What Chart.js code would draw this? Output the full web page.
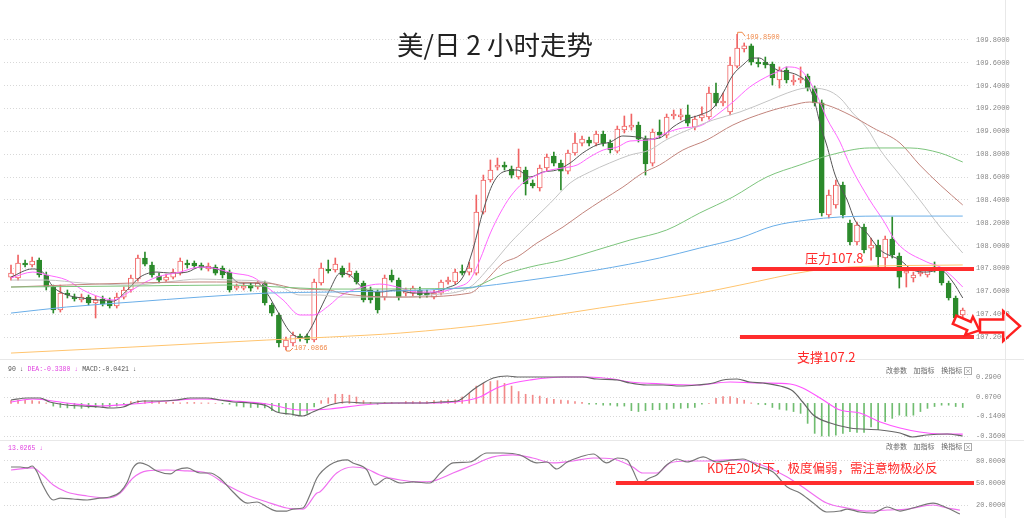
<!DOCTYPE html>
<html>
<head>
<meta charset="utf-8">
<script src="https://cdn.jsdelivr.net/npm/chart.js@4.4.1/dist/chart.umd.min.js"></script>
<style>
  body { margin: 0; background: #fff; }
  #wrap { position: relative; width: 1024px; height: 518px; overflow: hidden; font-family: "Noto Sans CJK SC", sans-serif; }
  canvas { position: absolute; left: 0; }
  .t { position: absolute; white-space: nowrap; }
  .hl { position: absolute; left: 0; width: 1024px; height: 1px; background: #e8e8e8; }
  .vl { position: absolute; top: 0; width: 1px; height: 518px; background: #e8e8e8; }
  .small { font-family: "Liberation Mono", monospace; font-size: 6.5px; line-height: 8px; }
  .tools { font-size: 7px; line-height: 9px; color: #666; word-spacing: 5px; }
  .box { position: absolute; width: 6px; height: 6px; border: 1px solid #aaa; font-size: 6px; line-height: 6px; text-align: center; color: #777; }
</style>
</head>
<body>
<div id="wrap">
  <canvas id="main" width="1024" height="360" style="top:0"></canvas>
  <canvas id="macd" width="1024" height="80" style="top:360px"></canvas>
  <canvas id="kd" width="1024" height="78" style="top:440px"></canvas>
  <div class="hl" style="top:359px"></div>
  <div class="hl" style="top:440px"></div>
  <div class="vl" style="left:1005px"></div>

  <div class="t" style="left:397px;top:27px;font-size:26.5px;line-height:34px;color:#222">美/日 2 小时走势</div>
  <div class="t" style="left:805px;top:249px;font-size:13px;line-height:17px;color:#ff2a2a">压力107.8</div>
  <div class="t" style="left:797px;top:348px;font-size:13px;line-height:17px;color:#ff2a2a">支撑107.2</div>
  <div class="t" style="left:707px;top:459px;font-size:12.5px;line-height:17px;color:#ff2a2a">KD在20以下，极度偏弱，需注意物极必反</div>

  <div class="t small" style="left:8px;top:366px"><span style="color:#555">90 ↓</span> <span style="color:#e040e0">DEA:-0.3380 ↓</span> <span style="color:#555">MACD:-0.0421 ↓</span></div>
  <div class="t small" style="left:8px;top:445px;color:#e040e0">13.0265 ↓</div>
  <div class="t tools" style="left:886px;top:366px">改参数 加指标 换指标</div>
  <div class="box" style="left:964px;top:367px">×</div>
  <div class="t tools" style="left:886px;top:442px">改参数 加指标 换指标</div>
  <div class="box" style="left:964px;top:443px">×</div>
</div>
<script>
// price axis / indicator ticks
const priceTicks = [107.2, 107.4, 107.6, 107.8, 108.0, 108.2, 108.4, 108.6, 108.8, 109.0, 109.2, 109.4, 109.6, 109.8];
const macdTicks = [0.29, 0.07, -0.14, -0.36];
const kdTicks = [80, 50, 20];

// 2h candles
const opens = [107.725,107.717,107.848,107.831,107.874,107.743,107.638,107.437,107.585,107.550,
  107.524,107.550,107.498,107.533,107.515,107.472,107.550,107.612,107.708,107.892,
  107.831,107.734,107.699,107.725,107.760,107.848,107.848,107.831,107.796,107.813,
  107.804,107.769,107.629,107.629,107.655,107.638,107.673,107.480,107.393,107.113,
  107.148,107.209,107.209,107.174,107.673,107.796,107.787,107.804,107.743,107.760,
  107.673,107.612,107.594,107.550,107.743,107.699,107.585,107.585,107.612,107.585,
  107.550,107.585,107.682,107.682,107.778,107.769,107.760,108.294,108.575,108.688,
  108.706,108.671,108.601,108.662,108.548,108.505,108.680,108.785,108.723,108.653,
  108.811,108.898,108.925,108.898,108.977,108.898,108.828,109.012,109.038,109.056,
  108.933,108.723,108.995,108.968,109.135,109.126,109.144,109.038,109.117,109.126,
  109.336,109.249,109.170,109.572,109.721,109.748,109.607,109.607,109.590,109.450,
  109.537,109.432,109.450,109.485,109.380,109.249,108.268,108.356,108.531,108.198,
  108.032,108.163,107.979,108.006,107.892,108.058,107.909,107.760,107.717,107.752,
  107.743,107.813,107.787,107.673,107.542,107.393];
const closes = [107.760,107.848,107.831,107.866,107.743,107.638,107.437,107.585,107.568,107.533,
  107.550,107.498,107.524,107.489,107.472,107.550,107.612,107.717,107.892,107.839,
  107.743,107.699,107.725,107.769,107.866,107.831,107.822,107.813,107.822,107.760,
  107.743,107.612,107.647,107.647,107.629,107.673,107.498,107.410,107.148,107.174,
  107.218,107.192,107.174,107.682,107.804,107.778,107.839,107.743,107.778,107.682,
  107.524,107.524,107.437,107.717,107.699,107.550,107.612,107.629,107.568,107.568,
  107.585,107.682,107.699,107.769,107.760,107.804,108.294,108.575,108.662,108.706,
  108.688,108.618,108.688,108.540,108.522,108.680,108.776,108.723,108.653,108.811,
  108.898,108.933,108.898,108.977,108.898,108.837,109.021,109.047,109.056,108.933,
  108.715,108.995,108.968,109.126,109.152,109.144,109.073,109.108,109.144,109.336,
  109.249,109.266,109.581,109.730,109.748,109.607,109.590,109.581,109.467,109.537,
  109.450,109.450,109.467,109.380,109.249,108.286,108.443,108.531,108.268,108.032,
  108.181,107.962,108.006,107.901,108.058,107.918,107.725,107.778,107.743,107.769,
  107.787,107.787,107.673,107.542,107.367,107.437];
const highs = [107.831,107.918,107.874,107.901,107.892,107.769,107.655,107.655,107.612,107.577,
  107.577,107.568,107.559,107.559,107.542,107.585,107.638,107.743,107.918,107.944,
  107.857,107.760,107.752,107.796,107.892,107.874,107.866,107.848,107.848,107.831,
  107.822,107.787,107.664,107.673,107.673,107.690,107.690,107.498,107.410,107.200,
  107.244,107.227,107.227,107.708,107.848,107.874,107.892,107.822,107.848,107.778,
  107.690,107.638,107.612,107.743,107.787,107.717,107.629,107.647,107.638,107.612,
  107.612,107.699,107.725,107.796,107.831,107.857,108.443,108.618,108.750,108.767,
  108.732,108.697,108.846,108.688,108.575,108.706,108.802,108.820,108.750,108.837,
  108.986,108.960,108.951,109.003,109.003,108.925,109.047,109.135,109.152,109.082,
  108.960,109.021,109.100,109.152,109.187,109.196,109.231,109.135,109.214,109.389,
  109.424,109.336,109.651,109.850,109.774,109.765,109.642,109.651,109.607,109.564,
  109.564,109.494,109.564,109.502,109.397,109.275,108.487,108.575,108.557,108.224,
  108.207,108.189,108.067,108.049,108.084,108.251,107.936,107.804,107.769,107.787,
  107.804,107.857,107.804,107.690,107.559,107.454];
const lows = [107.699,107.699,107.813,107.813,107.725,107.612,107.410,107.419,107.542,107.515,
  107.507,107.480,107.367,107.472,107.454,107.454,107.533,107.594,107.690,107.822,
  107.725,107.673,107.682,107.708,107.743,107.804,107.804,107.787,107.778,107.743,
  107.717,107.594,107.612,107.612,107.603,107.620,107.480,107.384,107.113,107.0866,
  107.122,107.165,107.148,107.157,107.655,107.760,107.769,107.725,107.725,107.664,
  107.507,107.498,107.410,107.524,107.682,107.524,107.559,107.559,107.542,107.550,
  107.533,107.568,107.664,107.664,107.743,107.743,107.743,108.277,108.557,108.662,
  108.662,108.592,108.583,108.443,108.505,108.478,108.653,108.697,108.487,108.627,
  108.793,108.872,108.872,108.872,108.872,108.811,108.811,108.986,109.012,108.907,
  108.618,108.697,108.942,108.942,109.108,109.100,109.047,109.012,109.091,109.108,
  109.222,109.222,109.144,109.555,109.695,109.581,109.564,109.555,109.406,109.380,
  109.424,109.406,109.424,109.354,109.222,108.259,108.242,108.329,108.242,108.006,
  108.006,107.936,107.874,107.813,107.813,107.892,107.629,107.638,107.682,107.734,
  107.725,107.769,107.655,107.524,107.305,107.349];

// moving averages, [candle index, price]
const ma5 = [[0,107.725],[3,107.796],[4.5,107.769],[6,107.638],[8,107.568],[10,107.542],[12.5,107.524],
  [14.5,107.515],[16.5,107.612],[18.3,107.725],[20.7,107.769],[22.6,107.760],[25,107.769],[26.8,107.813],
  [28.7,107.804],[30.6,107.760],[32.5,107.673],[34.9,107.673],[36.3,107.585],[37.7,107.437],[39.6,107.244],
  [41.4,107.192],[42.4,107.262],[43.8,107.437],[45.2,107.612],[46.7,107.760],[48.1,107.743],[49.9,107.629],
  [52.3,107.594],[54.8,107.612],[57,107.585],[59.4,107.585],[61.8,107.629],[64.1,107.725],[65.5,107.962],
  [67,108.312],[68.4,108.548],[69.8,108.645],[71.8,108.662],[73.6,108.601],[75.5,108.645],[77.4,108.662],
  [79.3,108.723],[81.1,108.811],[83.1,108.881],[85,108.907],[86.8,108.960],[88.8,108.951],[90.6,108.933],
  [92.3,108.951],[93.9,109.038],[95.9,109.108],[97.7,109.144],[99.6,109.205],[101,109.336],[102.4,109.494],
  [103.8,109.581],[105.2,109.642],[106.2,109.642],[107.2,109.599],[108.7,109.537],[110.1,109.520],
  [111.5,109.494],[112.9,109.424],[114,109.257],[114.8,109.056],[115.7,108.881],[116.9,108.618],
  [118.6,108.400],[119.7,108.224],[121.4,108.111],[123.3,107.962],[126.1,107.874],[127.9,107.787],
  [129.9,107.769],[131.8,107.787],[133.6,107.682],[135,107.542]];
const ma10 = [[0,107.717],[3.1,107.769],[5.1,107.743],[7.9,107.699],[10.2,107.612],[12.6,107.550],
  [14.5,107.524],[16.5,107.585],[18.3,107.655],[20.7,107.725],[24,107.769],[26.8,107.813],[28.7,107.804],
  [31.5,107.760],[34.3,107.725],[36.3,107.638],[38.6,107.524],[41,107.393],[42.8,107.393],[45.2,107.480],
  [46.7,107.559],[49.9,107.638],[52.3,107.664],[54.8,107.638],[57.6,107.594],[60.4,107.594],[63.3,107.638],
  [65.1,107.699],[66.5,107.874],[68,108.111],[69.4,108.286],[70.8,108.426],[72.6,108.548],[74.6,108.618],
  [76.5,108.662],[78.3,108.680],[80.3,108.706],[82.1,108.776],[84,108.837],[86,108.863],[87.8,108.916],
  [90.6,108.925],[92.9,108.986],[95.3,109.030],[97.7,109.047],[100.1,109.144],[102.4,109.257],
  [104.8,109.389],[107.7,109.494],[108.7,109.520],[110.1,109.564],[111.5,109.555],[112.9,109.476],
  [114.3,109.319],[115.7,109.117],[117.6,108.907],[119,108.706],[121.8,108.400],[123.7,108.224],
  [125.7,108.023],[129.9,107.857],[131.8,107.813],[133.6,107.725],[135,107.638]];
const ma20 = [[0,107.699],[5,107.699],[10.2,107.673],[17.3,107.655],[22.1,107.682],[26.8,107.708],
  [31.5,107.699],[36.3,107.682],[38.6,107.629],[41,107.568],[43.8,107.568],[46.7,107.550],[55.2,107.550],
  [59.4,107.568],[65.1,107.638],[67.9,107.813],[70.8,108.023],[73.6,108.198],[76.5,108.373],[79.3,108.548],
  [82.1,108.645],[84.9,108.723],[87.8,108.793],[90.6,108.837],[92.9,108.925],[96.7,109.030],[99.6,109.100],
  [103.4,109.170],[107.7,109.275],[110.1,109.336],[112.9,109.380],[115.7,109.362],[117.6,109.292],
  [119.4,109.161],[121.4,109.030],[123.3,108.837],[126.1,108.618],[128.9,108.400],[131.8,108.163],
  [135,107.936]];
const ma30 = [[0,107.638],[7.9,107.655],[17.3,107.673],[26.8,107.682],[36.3,107.673],[41,107.620],
  [45.2,107.612],[46.7,107.585],[55.2,107.550],[65.1,107.585],[67,107.673],[69.8,107.848],[71.8,107.901],
  [74.6,108.023],[78.3,108.163],[81.1,108.286],[83.9,108.400],[86.8,108.513],[89.6,108.636],[92,108.706],
  [95.3,108.837],[98.7,108.925],[102.4,109.056],[107.2,109.170],[110.9,109.231],[113.3,109.257],
  [115.7,109.231],[119,109.144],[122.3,109.030],[126.1,108.898],[128.9,108.706],[131.8,108.531],
  [135,108.356]];
const ma60 = [[0,107.638],[17.3,107.647],[30.6,107.655],[41,107.629],[45.2,107.620],[65.1,107.629],
  [66.5,107.655],[68.9,107.725],[73.6,107.813],[78.3,107.874],[83.1,107.962],[87.8,108.049],[93,108.137],
  [97.7,108.286],[102.4,108.426],[107.2,108.601],[111.9,108.706],[116.2,108.793],[121.8,108.855],
  [127.5,108.855],[131.8,108.811],[135,108.732]];
const ma120 = [[0,107.410],[7.9,107.463],[17.3,107.507],[26.8,107.550],[36.3,107.585],[45.2,107.594],
  [64.1,107.629],[73.6,107.699],[83.1,107.787],[92,107.892],[97.7,107.979],[103.4,108.067],[108.1,108.172],
  [112.9,108.224],[117.6,108.251],[124.7,108.259],[135,108.259]];
const ma250 = [[0,107.060],[17.3,107.113],[36.3,107.174],[45.2,107.200],[55.2,107.235],[69.4,107.323],
  [83.5,107.454],[97.7,107.585],[103.4,107.655],[113.3,107.778],[119,107.813],[135,107.831]];

// MACD histogram per candle, DIF / DEA as [index, value]
const macdHist = [0.03,0.035,0.035,0.03,0.02,0.005,-0.03,-0.045,-0.05,-0.055,
  -0.055,-0.05,-0.045,-0.045,-0.04,-0.03,-0.01,0.02,0.03,0.03,
  0.025,0.02,0.01,0.01,0.005,0.01,0.01,0.005,0.005,0,
  -0.005,-0.01,-0.03,-0.04,-0.045,-0.045,-0.05,-0.08,-0.1,-0.12,
  -0.13,-0.13,-0.11,-0.04,0.03,0.06,0.1,0.1,0.09,0.07,
  0.03,0.01,-0.01,0.01,0.01,0,0.02,0.02,0.02,0.02,
  0.03,0.03,0.04,0.04,0.07,0.11,0.19,0.22,0.24,0.25,
  0.22,0.19,0.13,0.1,0.09,0.08,0.055,0.045,0.035,0.03,
  0.02,0.01,-0.01,-0.01,-0.02,-0.02,-0.03,-0.03,-0.08,-0.09,
  -0.08,-0.07,-0.07,-0.065,-0.055,-0.055,-0.05,-0.045,-0.01,0,
  0.055,0.075,0.075,0.055,0.035,0.005,-0.01,-0.015,-0.045,-0.065,
  -0.075,-0.09,-0.11,-0.22,-0.33,-0.36,-0.36,-0.35,-0.33,-0.31,
  -0.32,-0.32,-0.26,-0.29,-0.2,-0.165,-0.13,-0.14,-0.13,-0.09,
  -0.055,-0.035,-0.02,-0.02,-0.035,-0.045];
const difLine = [[0,0.037],[2.3,0.059],[4.1,0.059],[5.5,0.015],[7.9,-0.018],[10.2,-0.029],[12.6,-0.04],
  [14,-0.051],[15.9,-0.04],[17.3,0.004],[18.7,0.026],[21.1,0.026],[23.5,0.037],[25.4,0.059],[27.8,0.059],
  [29.6,0.037],[31.5,0.015],[33.9,0.004],[36.3,-0.029],[37.7,-0.095],[39.6,-0.117],[41.4,-0.139],
  [42.8,-0.095],[45.2,-0.018],[47.7,0.015],[49.9,0.004],[52.3,0.004],[54.8,0.004],[58.4,0.004],
  [60.9,0.015],[63.3,0.026],[64.1,0.059],[65.5,0.147],[67,0.224],[68.4,0.279],[70.4,0.301],[71.8,0.29],
  [73.6,0.29],[78.3,0.29],[81.1,0.29],[83.1,0.268],[86,0.257],[87.8,0.224],[90.2,0.202],[92.5,0.202],
  [94.9,0.191],[97.3,0.202],[99.6,0.224],[101,0.257],[103,0.268],[104.8,0.235],[106.7,0.224],
  [109.1,0.191],[110.9,0.136],[112.3,0.015],[113.8,-0.128],[116.2,-0.216],[119,-0.271],[123.3,-0.293],
  [126.1,-0.326],[127.9,-0.37],[129.9,-0.348],[132.8,-0.337],[135,-0.359]];
const deaLine = [[0,0.015],[3.1,0.048],[7.9,0.004],[12.6,-0.029],[17.3,-0.007],[22.1,0.026],[26.8,0.048],
  [31.5,0.026],[36.3,-0.007],[41,-0.073],[45.2,-0.062],[49.9,-0.018],[54.8,0.004],[59.4,0.004],
  [64.1,0.026],[66.5,0.07],[68.9,0.169],[71.2,0.224],[73.6,0.257],[78.3,0.29],[81.7,0.29],[85.4,0.268],
  [87.8,0.235],[92.5,0.213],[97.3,0.202],[102,0.235],[106.7,0.224],[110.5,0.213],[112.3,0.169],
  [115.2,0.037],[117.6,-0.073],[120.4,-0.106],[123.3,-0.205],[126.1,-0.271],[128.9,-0.315],
  [131.8,-0.337],[135,-0.338]];

// KD, [index, value]
const kLine = [[0,71.8],[1.3,71.8],[2.3,70.5],[3,73.2],[3.7,65],[4.5,47.3],[6,26.8],[7,29.5],[8.8,28.2],
  [10.8,26.8],[12.6,29.5],[14,30.9],[15.5,37.7],[16.5,51.4],[17.3,70.5],[18.3,77.3],[19.3,74.5],
  [20.7,66.4],[22.6,62.3],[23.5,67.7],[25,70.5],[26.8,63.6],[28.2,63.6],[29.6,56.8],[31.5,37.7],
  [33.5,22.7],[34.9,24.1],[36.3,17.3],[37.7,11.8],[39.1,11.8],[40,14.5],[41.4,15.9],[42.4,33.6],
  [43.4,56.8],[45.2,74.5],[47.7,81.4],[48.5,77.3],[50.5,67.7],[51.6,47.3],[53.3,56.8],[55.2,50],
  [57,51.4],[59.4,50],[60.9,63.6],[62.7,77.3],[65.1,78.6],[67.5,90.9],[69.8,90.9],[72.2,88.2],
  [74.6,77.3],[76,78.6],[77.4,69.1],[78.9,78.6],[80.7,85.5],[82.6,89.5],[84.5,77.3],[86,84.1],
  [87.4,81.4],[88.2,67.7],[89.2,50],[90.6,56.8],[91.6,60.9],[93,74.5],[94.5,82.7],[95.9,78.6],
  [98.2,85.5],[100.1,78.6],[102.4,81.4],[103.8,82.7],[106.2,71.8],[108.1,65],[110.1,44.5],[111.9,36.4],
  [113.8,22.7],[115.7,10.5],[117.6,11.8],[118.6,14.5],[120.4,10.5],[122.3,9.1],[124.3,17.3],
  [126.1,11.8],[127.9,15.9],[130.8,22.7],[132.8,15.9],[134.6,7.7]];
const dLine = [[0,67.7],[3.1,70.5],[4.5,60.9],[6,47.3],[7.9,37.7],[10.8,32.3],[13.6,29.5],[15.5,36.4],
  [17.3,56.8],[19.3,66.4],[22.1,67.7],[25,66.4],[27.8,63.6],[30.6,47.3],[33.5,33.6],[36.3,24.1],
  [39.1,15.9],[41.4,14.5],[43.4,36.4],[43.8,37.7],[46.2,63.6],[48.5,71.8],[50.5,69.1],[52.3,60.9],
  [55.2,54.1],[58,51.4],[59.9,52.7],[62.7,63.6],[65.5,74.5],[68.4,85.5],[71.2,88.2],[74,84.1],
  [76.9,77.3],[79.7,80],[82.6,84.1],[85.4,82.7],[88.2,71.8],[89.6,63.6],[91.6,63.6],[93.5,77.3],
  [95.9,80],[98.7,80],[101.6,81.4],[104.4,80],[107.2,71.8],[110.1,58.2],[112.9,40.5],[115.7,22.7],
  [118.6,15.9],[121.4,11.8],[124.3,13.2],[127.1,14.5],[130.8,20],[132.8,15.9],[134.6,13.0265]];

// drawn levels: start index and value
const priceLevels = [{ from: 105.1, value: 107.8 }, { from: 103.4, value: 107.2 }];
const kdLevels = [{ from: 85.8, value: 50 }];

const upColor = "#f06464";
const downColor = "#2b8a2b";
const idx = opens.map((_, i) => i);
const isUp = i => closes[i] >= opens[i];

Chart.defaults.animation = false;
Chart.defaults.plugins.legend.display = false;
Chart.defaults.plugins.tooltip.enabled = false;

function xAxis() {
  return { type: "linear", min: -0.993, max: 136.03, offset: false, display: false };
}
function yAxis(min, max, ticks) {
  return {
    position: "right", min: min, max: max,
    afterBuildTicks: s => { s.ticks = ticks.map(v => ({ value: v })); },
    afterFit: s => { s.width = 54; s.paddingTop = 0; s.paddingBottom = 0; },
    grid: { color: "#d8d8d8", drawTicks: false },
    border: { display: false, dash: [1, 2] },
    ticks: { padding: 6, color: "#888", font: { size: 7, family: "Liberation Mono" }, callback: v => v.toFixed(4) }
  };
}
function line(points, color, width) {
  return {
    type: "line", data: points.map(p => ({ x: p[0], y: p[1] })),
    borderColor: color, borderWidth: width || 1, pointRadius: 0,
    cubicInterpolationMode: "monotone", order: 0
  };
}
function levelPlugin(levels) {
  return {
    id: "levels",
    afterDraw(chart) {
      const { ctx, chartArea } = chart;
      const x = chart.scales.x, y = chart.scales.y;
      ctx.save();
      ctx.strokeStyle = "#ff2d2d";
      ctx.lineWidth = 4;
      levels.forEach(l => {
        const py = Math.round(y.getPixelForValue(l.value));
        ctx.beginPath();
        ctx.moveTo(x.getPixelForValue(l.from), py);
        ctx.lineTo(chartArea.right + 4, py);
        ctx.stroke();
      });
      ctx.restore();
    }
  };
}

function drawArrow(ctx, cx, cy, len, shaftH, headH, angle) {
  const headL = len * 0.42;
  ctx.save();
  ctx.translate(cx, cy);
  ctx.rotate(angle);
  const l = -len / 2, r = len / 2, hb = r - headL;
  ctx.beginPath();
  ctx.moveTo(l, -shaftH / 2);
  ctx.lineTo(hb, -shaftH / 2);
  ctx.lineTo(hb, -headH / 2);
  ctx.lineTo(r, 0);
  ctx.lineTo(hb, headH / 2);
  ctx.lineTo(hb, shaftH / 2);
  ctx.lineTo(l, shaftH / 2);
  ctx.closePath();
  ctx.fillStyle = "#fff";
  ctx.fill();
  ctx.strokeStyle = "#ff2020";
  ctx.lineWidth = 2.5;
  ctx.stroke();
  ctx.restore();
}

// high/low labels and the arrows on the right
const markPlugin = {
  id: "marks",
  afterDraw(chart) {
    const { ctx, chartArea } = chart;
    const x = chart.scales.x, y = chart.scales.y;
    const hi = highs.indexOf(Math.max(...highs));
    const lo = lows.indexOf(Math.min(...lows));
    ctx.save();
    ctx.strokeStyle = "#f08a4b";
    ctx.fillStyle = "#f08a4b";
    ctx.lineWidth = 1;
    ctx.font = "7px 'Liberation Mono'";
    ctx.textBaseline = "middle";
    let px = x.getPixelForValue(hi), py = y.getPixelForValue(highs[hi]);
    ctx.beginPath();
    ctx.moveTo(px + 0.5, py);
    ctx.lineTo(px + 0.5, py - 2);
    ctx.lineTo(px + 5, py - 2);
    ctx.lineTo(px + 8, py + 2);
    ctx.stroke();
    ctx.fillText(highs[hi].toFixed(4), px + 9, py + 3);
    px = x.getPixelForValue(lo); py = y.getPixelForValue(lows[lo]);
    ctx.beginPath();
    ctx.moveTo(px + 0.5, py);
    ctx.lineTo(px + 0.5, py + 1);
    ctx.lineTo(px + 4, py + 1);
    ctx.lineTo(px + 7, py - 2);
    ctx.stroke();
    ctx.fillText(lows[lo].toFixed(4), px + 8, py - 2);
    ctx.restore();

    const ySup = y.getPixelForValue(priceLevels[1].value);
    drawArrow(ctx, chartArea.right - 3, ySup - 12, 27, 9, 20, 0.4);
    drawArrow(ctx, chartArea.right + 30, ySup - 11, 40, 13, 30, 0);
  }
};

new Chart(document.getElementById("main"), {
  type: "bar",
  data: {
    datasets: [
      line(ma250, "#ffc46e"),
      line(ma120, "#6aaee8"),
      line(ma60, "#7cc47c"),
      line(ma30, "#c2847c"),
      line(ma20, "#c4c4c4"),
      line(ma10, "#ff66ff"),
      line(ma5, "#555555"),
      {
        data: idx.map(i => ({ x: i, y: [opens[i], closes[i]] })),
        backgroundColor: idx.map(i => isUp(i) ? "#ffffff" : downColor),
        borderColor: idx.map(i => isUp(i) ? upColor : downColor),
        borderWidth: 1, borderSkipped: false, minBarLength: 1,
        barThickness: 5, grouped: false, order: 1
      },
      {
        data: idx.map(i => ({ x: i, y: [lows[i], highs[i]] })),
        backgroundColor: idx.map(i => isUp(i) ? upColor : downColor),
        barThickness: 1, grouped: false, order: 2
      }
    ]
  },
  options: {
    responsive: false,
    layout: { padding: { left: 4, top: 28, bottom: 5, right: 0 } },
    scales: { x: xAxis(), y: yAxis(107.043, 109.905, priceTicks) }
  },
  plugins: [levelPlugin(priceLevels), markPlugin]
});

new Chart(document.getElementById("macd"), {
  type: "bar",
  data: {
    datasets: [
      line(difLine, "#666666", 1.2),
      line(deaLine, "#ff55ff", 1.2),
      {
        data: idx.map(i => ({ x: i, y: macdHist[i] })),
        backgroundColor: macdHist.map(v => v >= 0 ? "#f28a8a" : "#70bd70"),
        barThickness: 1, grouped: false, order: 1
      }
    ]
  },
  options: {
    responsive: false,
    layout: { padding: { left: 4, top: 2, bottom: 0, right: 0 } },
    scales: { x: xAxis(), y: yAxis(-0.403, 0.455, macdTicks) }
  }
});

new Chart(document.getElementById("kd"), {
  type: "line",
  data: {
    datasets: [
      line(kLine, "#777777", 1.2),
      line(dLine, "#f070f0", 1.2)
    ]
  },
  options: {
    responsive: false,
    layout: { padding: { left: 4, top: 0, bottom: 0, right: 0 } },
    scales: { x: xAxis(), y: yAxis(2.3, 108.6, kdTicks) }
  },
  plugins: [levelPlugin(kdLevels)]
});
</script>
</body>
</html>
